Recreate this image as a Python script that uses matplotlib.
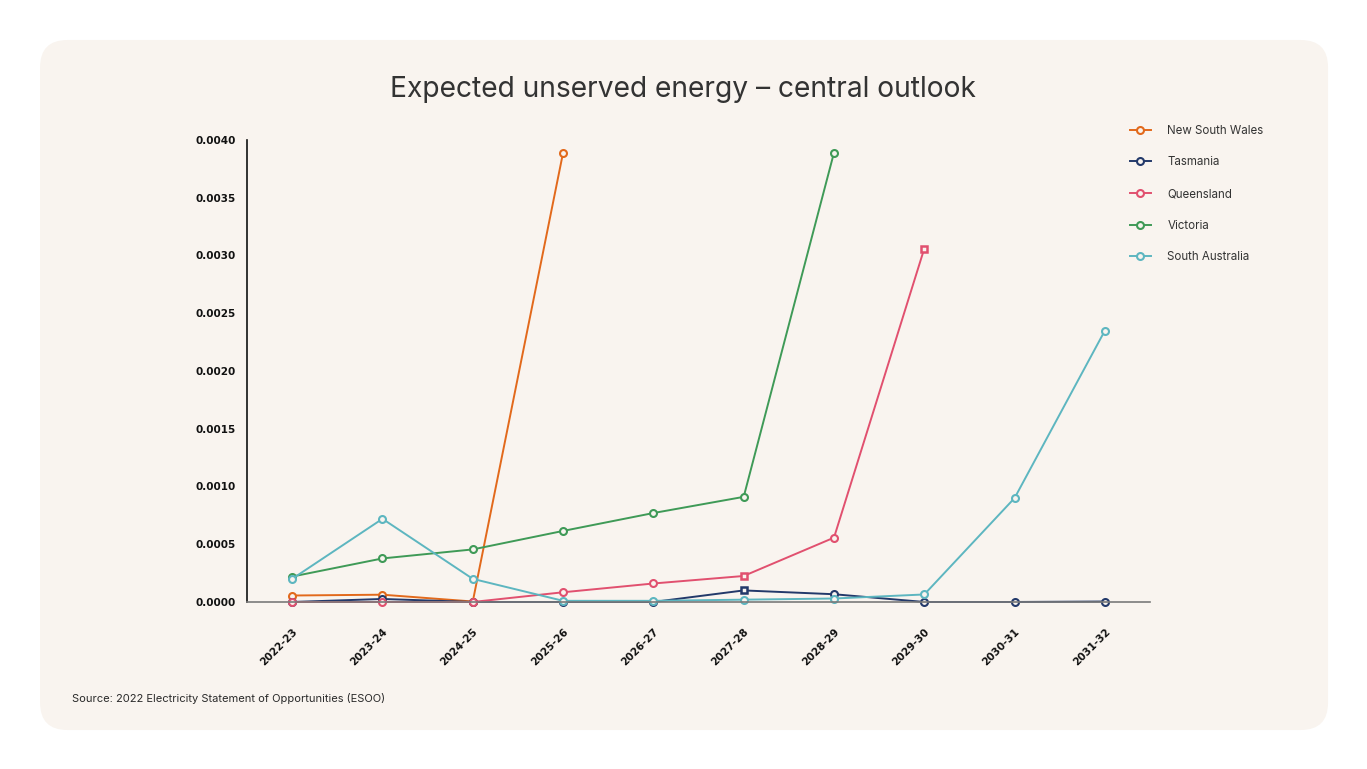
import matplotlib.pyplot as plt
from matplotlib.patches import FancyBboxPatch

# Data
years = ["2022-23", "2023-24", "2024-25", "2025-26", "2026-27",
         "2027-28", "2028-29", "2029-30", "2030-31", "2031-32"]

nsw = [0.000056, 0.000063, 0.000004, 0.00389]
tas = [0.0, 0.000026, 0.0, 0.0, 0.0, 0.0001, 0.000067, 0.0, 0.0, 0.000004]
qld = [0.0, 0.0, 0.0, 0.000084, 0.00016, 0.000225, 0.000557, 0.00306]
vic = [0.00022, 0.000377, 0.000455, 0.000615, 0.00077, 0.00091, 0.00389]
sa = [0.0002, 0.00072, 0.0002, 0.00001, 0.00001, 0.00002, 0.00003,
      0.000065, 0.0009, 0.00235]

names = ["New South Wales", "Tasmania", "Queensland", "Victoria", "South Australia"]
colors = ["#E2691B", "#23396A", "#E1506F", "#3F9A57", "#5DB6C0"]
# points that use a square marker in the original
square_pts = {"Tasmania": [5], "Queensland": [5, 7]}

bg = "#F9F4EF"

fig = plt.figure(figsize=(13.67, 7.69), dpi=100)
fig.patch.set_facecolor("white")
panel = FancyBboxPatch((0.0293, 0.0507), 0.9422, 0.8973,
                       boxstyle="round,pad=0,rounding_size=0.02",
                       transform=fig.transFigure, facecolor=bg,
                       edgecolor="none", zorder=-5,
                       mutation_aspect=1367 / 769)
fig.patches.append(panel)

ax = fig.add_axes([0.1807, 0.2172, 0.6606, 0.6008])
ax.set_facecolor("none")
ax.set_zorder(3)

series = [nsw, tas, qld, vic, sa]
for vals, name, c in zip(series, names, colors):
    x = list(range(len(vals)))
    sq = square_pts.get(name, [])
    circ = [i for i in x if i not in sq]
    ax.plot(x, vals, color=c, lw=1.4, marker="o", ms=5, markevery=circ,
            mfc=bg, mec=c, mew=1.5, label=name, clip_on=False)
    if sq:
        ax.plot([x[i] for i in sq], [vals[i] for i in sq], ls="none",
                marker="s", ms=5, mfc=bg, mec=c, mew=1.8, clip_on=False)

ax.set_xlim(-0.5, 9.5)
ax.set_ylim(0, 0.004)
ax.set_xticks(range(len(years)))
ax.set_xticklabels(years, rotation=45, ha="right", rotation_mode="anchor",
                   fontsize=7.5, fontweight="bold", family="DejaVu Sans",
                   color="#111111")
yt = [i * 0.0005 for i in range(9)]
ax.set_yticks(yt)
ax.set_yticklabels(["%.4f" % v for v in yt], fontsize=7.5, fontweight="bold",
                   family="DejaVu Sans", color="#111111")
ax.tick_params(axis="both", length=0)
ax.tick_params(axis="x", pad=18)
ax.tick_params(axis="y", pad=8)

for s in ["top", "right"]:
    ax.spines[s].set_visible(False)
ax.spines["left"].set_color("#111111")
ax.spines["left"].set_linewidth(1.2)
ax.spines["bottom"].set_color("#7a7a7a")
ax.spines["bottom"].set_linewidth(1.2)

fig.text(0.5, 0.883, "Expected unserved energy \u2013 central outlook",
         ha="center", va="center", fontsize=20.3, family="Inter", color="#333333")

leg = fig.legend(*ax.get_legend_handles_labels(), loc="upper left",
                 bbox_to_anchor=(0.8193, 0.8511), frameon=False,
                 labelspacing=1.7, handlelength=1.75,
                 handletextpad=1.45, prop={"family": "Inter", "size": 8.3})
for t in leg.get_texts():
    t.set_color("#333333")

fig.text(0.0527, 0.092, "Source: 2022 Electricity Statement of Opportunities (ESOO)",
         ha="left", va="center", fontsize=8, family="Inter", color="#2a2a2a")

fig.savefig("out.png", dpi=100, facecolor=fig.get_facecolor())
